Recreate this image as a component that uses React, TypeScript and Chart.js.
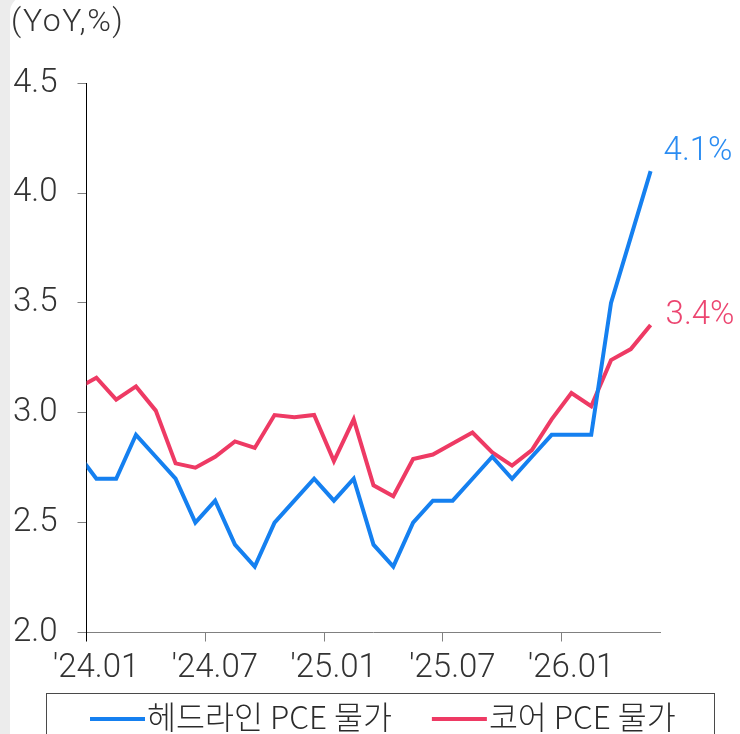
import React, { useEffect, useRef } from 'react';
import { Chart, registerables } from 'chart.js';

Chart.register(...registerables);

// Monthly categories (the first one, '23.12, sits just left of the axis and is clipped)
const months = [
  "'23.12",
  "'24.01", "'24.02", "'24.03", "'24.04", "'24.05", "'24.06",
  "'24.07", "'24.08", "'24.09", "'24.10", "'24.11", "'24.12",
  "'25.01", "'25.02", "'25.03", "'25.04", "'25.05", "'25.06",
  "'25.07", "'25.08", "'25.09", "'25.10", "'25.11", "'25.12",
  "'26.01", "'26.02", "'26.03", "'26.04", "'26.05",
];

const headline = [
  2.82,
  2.7, 2.7, 2.9, 2.8, 2.7, 2.5,
  2.6, 2.4, 2.3, 2.5, 2.6, 2.7,
  2.6, 2.7, 2.4, 2.3, 2.5, 2.6,
  2.6, 2.7, 2.8, 2.7, 2.8, 2.9,
  2.9, 2.9, 3.5, 3.8, 4.1,
];

const core = [
  3.11,
  3.16, 3.06, 3.12, 3.01, 2.77, 2.75,
  2.8, 2.87, 2.84, 2.99, 2.98, 2.99,
  2.78, 2.97, 2.67, 2.62, 2.79, 2.81,
  2.86, 2.91, 2.82, 2.76, 2.83, 2.97,
  3.09, 3.03, 3.24, 3.29, 3.4,
];

const seriesNames = ['헤드라인 PCE 물가', '코어 PCE 물가'];
const xTickLabels = ["'24.01", "'24.07", "'25.01", "'25.07", "'26.01"];
const yMin = 2.0;
const yMax = 4.5;
const yStep = 0.5;
const unitLabel = '(YoY,%)';

const BLUE = '#1580F0';
const RED = '#EE3A64';
const BLUE_TXT = '#2A8CF2';
const RED_TXT = '#EC4570';
const TICK_FONT = { family: 'Roboto', size: 33, weight: 300 as any };

export default function App() {
  const ref = useRef<HTMLCanvasElement>(null);

  useEffect(() => {
    const canvas = ref.current;
    if (!canvas) return;

    const toPts = (vals: number[]) => vals.map((v, i) => ({ x: i, y: v }));
    const tickValues = xTickLabels.map((l) => months.indexOf(l) - 0.5);

    const unitTitle = {
      id: 'unitTitle',
      afterDraw(chart: any) {
        const ctx = chart.ctx;
        ctx.save();
        ctx.font = `300 32px Roboto`;
        try {
          (ctx as any).letterSpacing = '1.5px';
        } catch (e) {}
        ctx.fillStyle = '#333';
        ctx.textAlign = 'left';
        ctx.textBaseline = 'middle';
        ctx.fillText(unitLabel, 11, 23);
        try {
          (ctx as any).letterSpacing = '0px';
        } catch (e) {}
        ctx.restore();
      },
    };

    const endLabels = {
      id: 'endLabels',
      afterDatasetsDraw(chart: any) {
        const ctx = chart.ctx;
        ctx.save();
        ctx.font = `300 33px Roboto`;
        ctx.textAlign = 'left';
        ctx.textBaseline = 'alphabetic';
        chart.data.datasets.forEach((ds: any, i: number) => {
          const meta = chart.getDatasetMeta(i);
          const pt = meta.data[meta.data.length - 1];
          const val = ds.data[ds.data.length - 1].y;
          ctx.fillStyle = ds.endLabelColor;
          ctx.fillText(`${val.toFixed(1)}%`, pt.x + ds.endLabelDx, pt.y + ds.endLabelDy);
        });
        ctx.restore();
      },
    };

    const boxedLegend = {
      id: 'boxedLegend',
      afterDraw(chart: any) {
        const ctx = chart.ctx;
        ctx.save();
        ctx.strokeStyle = '#4a4a4a';
        ctx.lineWidth = 1;
        ctx.strokeRect(46.5, 693.5, 668, 80);
        ctx.font = `300 31.5px "Noto Sans CJK KR"`;
        ctx.textBaseline = 'middle';
        ctx.textAlign = 'left';
        let x = 90;
        const y = 719;
        chart.data.datasets.forEach((ds: any) => {
          ctx.strokeStyle = ds.borderColor;
          ctx.lineWidth = 4;
          ctx.beginPath();
          ctx.moveTo(x, y);
          ctx.lineTo(x + 55, y);
          ctx.stroke();
          ctx.fillStyle = '#2b2b2b';
          ctx.fillText(ds.label, x + 57, y - 2);
          x = x + 57 + ctx.measureText(ds.label).width + 40;
        });
        ctx.restore();
      },
    };

    const chart = new Chart(canvas, {
      type: 'line',
      data: {
        datasets: [
          {
            label: seriesNames[0],
            data: toPts(headline),
            borderColor: BLUE,
            backgroundColor: BLUE,
            borderWidth: 4,
            pointRadius: 0,
            tension: 0,
            endLabelColor: BLUE_TXT,
            endLabelDx: 13,
            endLabelDy: -11,
          } as any,
          {
            label: seriesNames[1],
            data: toPts(core),
            borderColor: RED,
            backgroundColor: RED,
            borderWidth: 4,
            pointRadius: 0,
            tension: 0,
            endLabelColor: RED_TXT,
            endLabelDx: 15,
            endLabelDy: -1,
          } as any,
        ],
      },
      options: {
        responsive: false,
        animation: false,
        devicePixelRatio: 1,
        layout: { padding: { left: 13, right: 79.5, top: 83.3, bottom: 45.5 } },
        plugins: {
          legend: { display: false },
          tooltip: { enabled: false },
          title: { display: false },
        },
        scales: {
          x: {
            type: 'linear',
            min: 0.5,
            max: months.length - 0.5,
            afterBuildTicks: (s: any) => {
              s.ticks = tickValues.map((v) => ({ value: v }));
            },
            afterFit: (s: any) => {
              s.height = 56;
            },
            ticks: {
              autoSkip: false,
              maxRotation: 0,
              labelOffset: 9.5,
              padding: 7,
              color: '#333',
              font: TICK_FONT,
              callback: (v: any) => months[Math.round(Number(v) + 0.5)],
            },
            grid: {
              drawOnChartArea: false,
              drawTicks: true,
              tickLength: 9,
              lineWidth: 1,
              color: (c: any) => (c.index === 0 ? '#000' : '#808080'),
            },
            border: { display: true, color: '#808080', width: 1 },
          },
          y: {
            min: yMin,
            max: yMax,
            afterFit: (s: any) => {
              s.width = 73.5;
            },
            ticks: {
              stepSize: yStep,
              padding: 20,
              color: '#333',
              font: TICK_FONT,
              callback: (v: any) => Number(v).toFixed(1),
            },
            grid: {
              drawOnChartArea: false,
              drawTicks: true,
              tickLength: 9,
              lineWidth: 1,
              color: '#808080',
            },
            border: { display: true, color: '#000', width: 1 },
          },
        },
      },
      plugins: [unitTitle, endLabels, boxedLegend],
    });

    return () => chart.destroy();
  }, []);

  return (
    <div
      style={{
        position: 'fixed',
        left: 0,
        top: 0,
        width: 740,
        height: 734,
        overflow: 'hidden',
        background: '#ececec',
      }}
    >
      <div
        style={{
          position: 'absolute',
          left: 10,
          top: -4,
          right: 0,
          bottom: 0,
          background: '#fff',
          borderTopLeftRadius: 16,
        }}
      />
      <canvas
        ref={ref}
        width={740}
        height={734}
        style={{ position: 'absolute', left: 0, top: 0, width: 740, height: 734 }}
      />
    </div>
  );
}
